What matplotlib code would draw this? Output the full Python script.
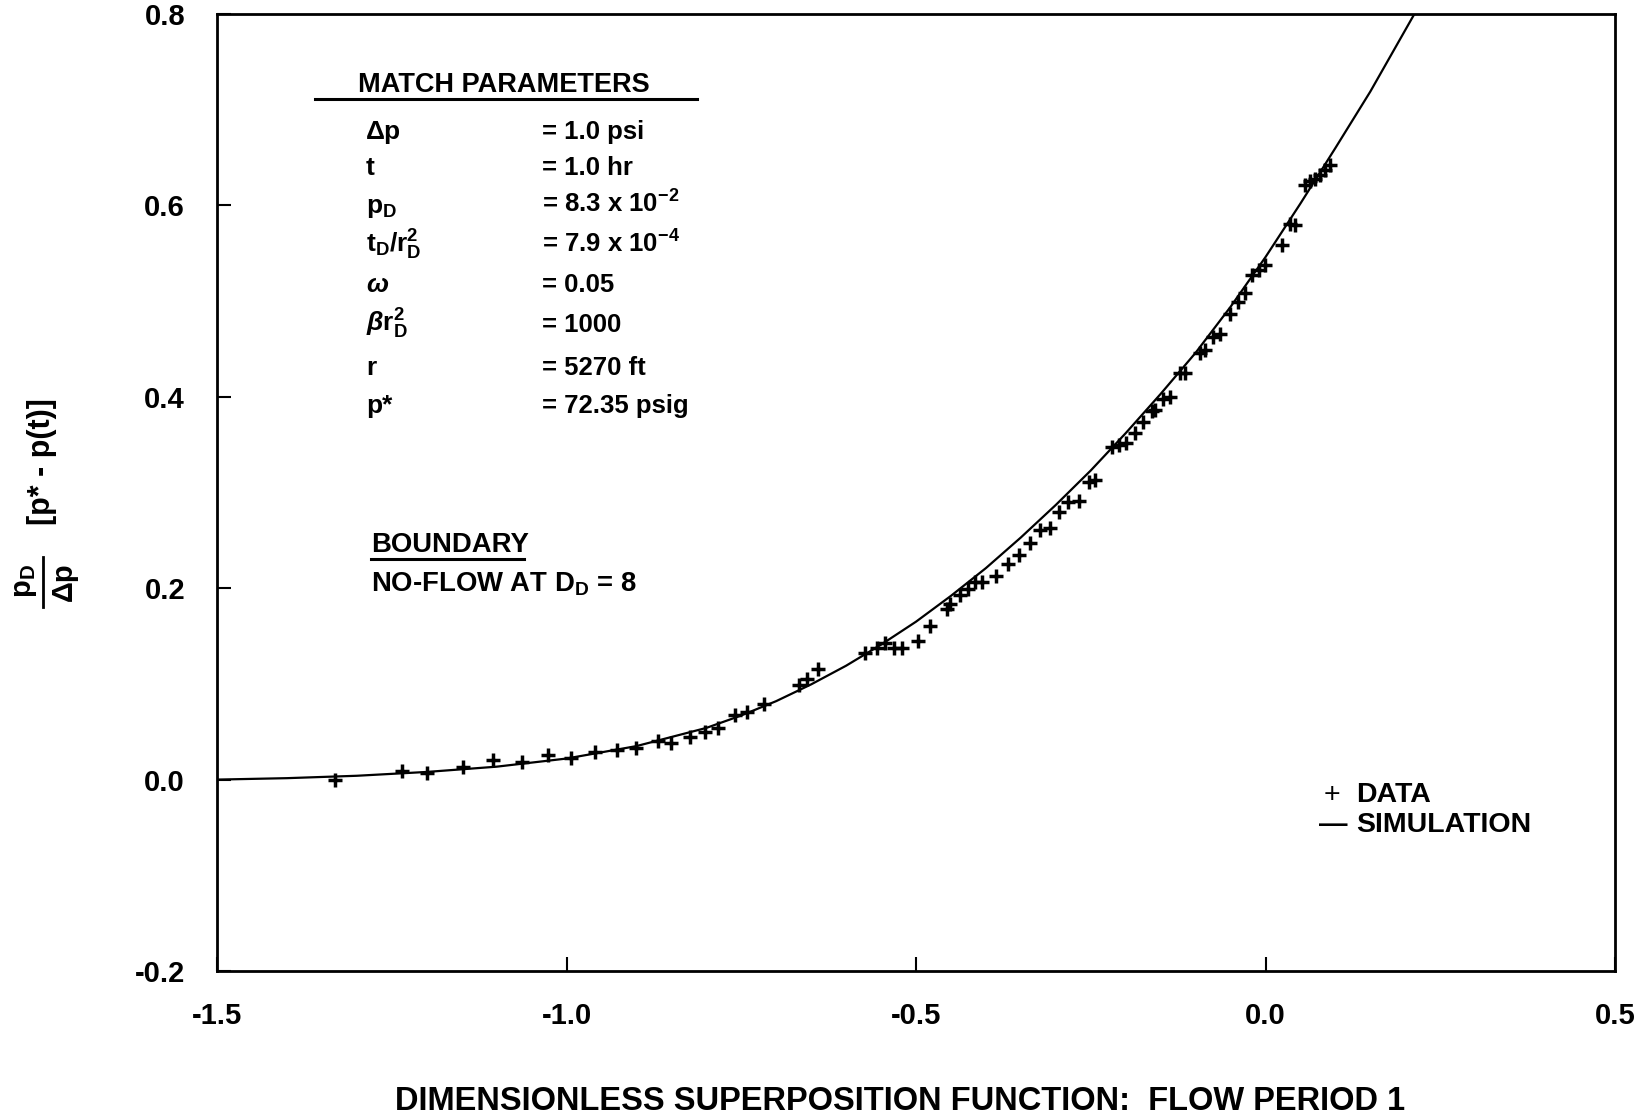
import matplotlib
matplotlib.use("Agg")
import matplotlib.pyplot as plt
from matplotlib.lines import Line2D

plt.rcParams['font.family'] = ['Liberation Sans', 'DejaVu Sans']
plt.rcParams['font.weight'] = 'bold'
plt.rcParams['mathtext.fontset'] = 'custom'
plt.rcParams['mathtext.rm'] = 'Liberation Sans:bold'
plt.rcParams['mathtext.bf'] = 'Liberation Sans:bold'
plt.rcParams['mathtext.sf'] = 'Liberation Sans:bold'
plt.rcParams['mathtext.it'] = 'Liberation Sans:italic'
plt.rcParams['mathtext.default'] = 'bf'

# ---------------- data ----------------
data_x = [-1.331, -1.236, -1.200, -1.148, -1.105, -1.064, -1.026, -0.993, -0.959,
          -0.928, -0.900, -0.869, -0.850, -0.823, -0.802, -0.783, -0.759, -0.742,
          -0.718, -0.668, -0.656, -0.640, -0.573, -0.556, -0.544, -0.532, -0.520,
          -0.497, -0.480, -0.456, -0.451, -0.437, -0.425, -0.416, -0.406, -0.385,
          -0.368, -0.353, -0.337, -0.323, -0.308, -0.296, -0.282, -0.267, -0.253,
          -0.244, -0.220, -0.210, -0.199, -0.187, -0.175, -0.163, -0.158, -0.146,
          -0.137, -0.122, -0.115, -0.094, -0.087, -0.075, -0.065, -0.051, -0.039,
          -0.030, -0.020, -0.010, -0.001, 0.023, 0.035, 0.042, 0.056, 0.064,
          0.071, 0.078, 0.085, 0.092]
data_y = [0.000, 0.009, 0.007, 0.013, 0.021, 0.018, 0.026, 0.023, 0.029,
          0.031, 0.033, 0.040, 0.038, 0.045, 0.050, 0.054, 0.068, 0.071,
          0.079, 0.099, 0.105, 0.116, 0.132, 0.138, 0.143, 0.137, 0.137,
          0.145, 0.160, 0.178, 0.184, 0.193, 0.199, 0.207, 0.206, 0.213,
          0.225, 0.235, 0.247, 0.261, 0.263, 0.280, 0.290, 0.291, 0.311,
          0.313, 0.348, 0.350, 0.352, 0.362, 0.374, 0.385, 0.386, 0.398,
          0.400, 0.425, 0.425, 0.446, 0.449, 0.463, 0.466, 0.487, 0.499,
          0.508, 0.527, 0.532, 0.538, 0.559, 0.581, 0.580, 0.621, 0.625,
          0.628, 0.632, 0.637, 0.642]

sim_x = [-1.50, -1.40, -1.30, -1.20, -1.10, -1.00, -0.90, -0.80, -0.75, -0.70,
         -0.65, -0.60, -0.55, -0.50, -0.45, -0.40, -0.35, -0.30, -0.25, -0.20,
         -0.15, -0.10, -0.05, 0.00, 0.05, 0.10, 0.15, 0.213]
sim_y = [0.000, 0.0015, 0.004, 0.008, 0.0135, 0.022, 0.035, 0.054, 0.067, 0.082,
         0.0995, 0.119, 0.141, 0.165, 0.192, 0.221, 0.253, 0.287, 0.323, 0.362,
         0.403, 0.446, 0.494, 0.546, 0.602, 0.660, 0.719, 0.800]

x_ticks = [-1.5, -1.0, -0.5, 0.0, 0.5]
x_ticklabels = ['-1.5', '-1.0', '-0.5', '0.0', '0.5']
y_ticks = [-0.2, 0.0, 0.2, 0.4, 0.6, 0.8]
y_ticklabels = ['-0.2', '0.0', '0.2', '0.4', '0.6', '0.8']

param_labels = ['Δp', 't', r'$p_D$', r'$t_D/r_D^2$', r'$\mathit{\omega}$',
                r'$\mathit{\beta}r_D^2$', 'r', 'p*']
param_values = ['= 1.0 psi', '= 1.0 hr', r'= 8.3 x 10$^{-2}$', r'= 7.9 x 10$^{-4}$',
                '= 0.05', '= 1000', '= 5270 ft', '= 72.35 psig']

# ---------------- figure ----------------
W, H = 1651, 1115
fig = plt.figure(figsize=(W / 100, H / 100), dpi=100)
ax = fig.add_axes([217 / W, 1 - 971 / H, (1615 - 217) / W, (971 - 14) / H])

ax.plot(sim_x, sim_y, color='black', lw=1.6, zorder=2,
        solid_joinstyle='round')
ax.plot(data_x, data_y, linestyle='none', marker='+', color='black',
        markersize=10.5, markeredgewidth=2.5, zorder=3)

ax.set_xlim(-1.5, 0.5)
ax.set_ylim(-0.2, 0.8)
ax.set_xticks(x_ticks)
ax.set_xticklabels(x_ticklabels)
ax.set_yticks(y_ticks)
ax.set_yticklabels(y_ticklabels)
ax.tick_params(direction='in', length=10, width=1.5, labelsize=21)
ax.tick_params(axis='x', pad=22)
ax.tick_params(axis='y', pad=23)
for lab in ax.get_xticklabels() + ax.get_yticklabels():
    lab.set_fontweight('bold')
for sp in ax.spines.values():
    sp.set_linewidth(2.0)


def ft(x, y, s, **kw):
    kw.setdefault('fontweight', 'bold')
    return fig.text(x / W, 1 - y / H, s, **kw)


def fline(xs, ys, lw=2.2):
    fig.add_artist(Line2D([v / W for v in xs], [1 - v / H for v in ys],
                          color='black', lw=lw, transform=fig.transFigure))


# match parameters table
ft(358, 92, 'MATCH PARAMETERS', fontsize=19.5, va='baseline', ha='left')
fline([315, 697], [99, 99])
row_base = [139, 175, 213, 253, 292, 332, 375, 413]
for lab, val, yb in zip(param_labels, param_values, row_base):
    ft(366, yb, lab, fontsize=19, va='baseline', ha='left')
    ft(542, yb, val, fontsize=18.5, va='baseline', ha='left')

# boundary
ft(371, 552, 'BOUNDARY', fontsize=19.8, va='baseline', ha='left')
fline([371, 524], [559, 559])
ft(371, 592, r'NO-FLOW AT $D_D$ = 8', fontsize=19.8, va='baseline', ha='left')

# legend
ft(1332, 802, '+', fontsize=20.5, va='baseline', ha='center', fontweight='normal')
ft(1356, 802, 'DATA', fontsize=20.5, va='baseline', ha='left')
ft(1319, 832, '\u2014', fontsize=20.5, va='baseline', ha='left')
ft(1356, 832, 'SIMULATION', fontsize=20.5, va='baseline', ha='left')

# axis labels
ft(900, 1110, 'DIMENSIONLESS SUPERPOSITION FUNCTION:  FLOW PERIOD 1',
   fontsize=23.5, va='baseline', ha='center')
ft(42, 462, '[p* - p(t)]', fontsize=22, rotation=90, va='center', ha='center')
ft(25, 581, r'$p_D$', fontsize=21, rotation=90, va='center', ha='center')
ft(64, 582, 'Δp', fontsize=21, rotation=90, va='center', ha='center')
fline([43, 43], [557, 607], lw=2.0)

fig.savefig('out.png', dpi=100)
